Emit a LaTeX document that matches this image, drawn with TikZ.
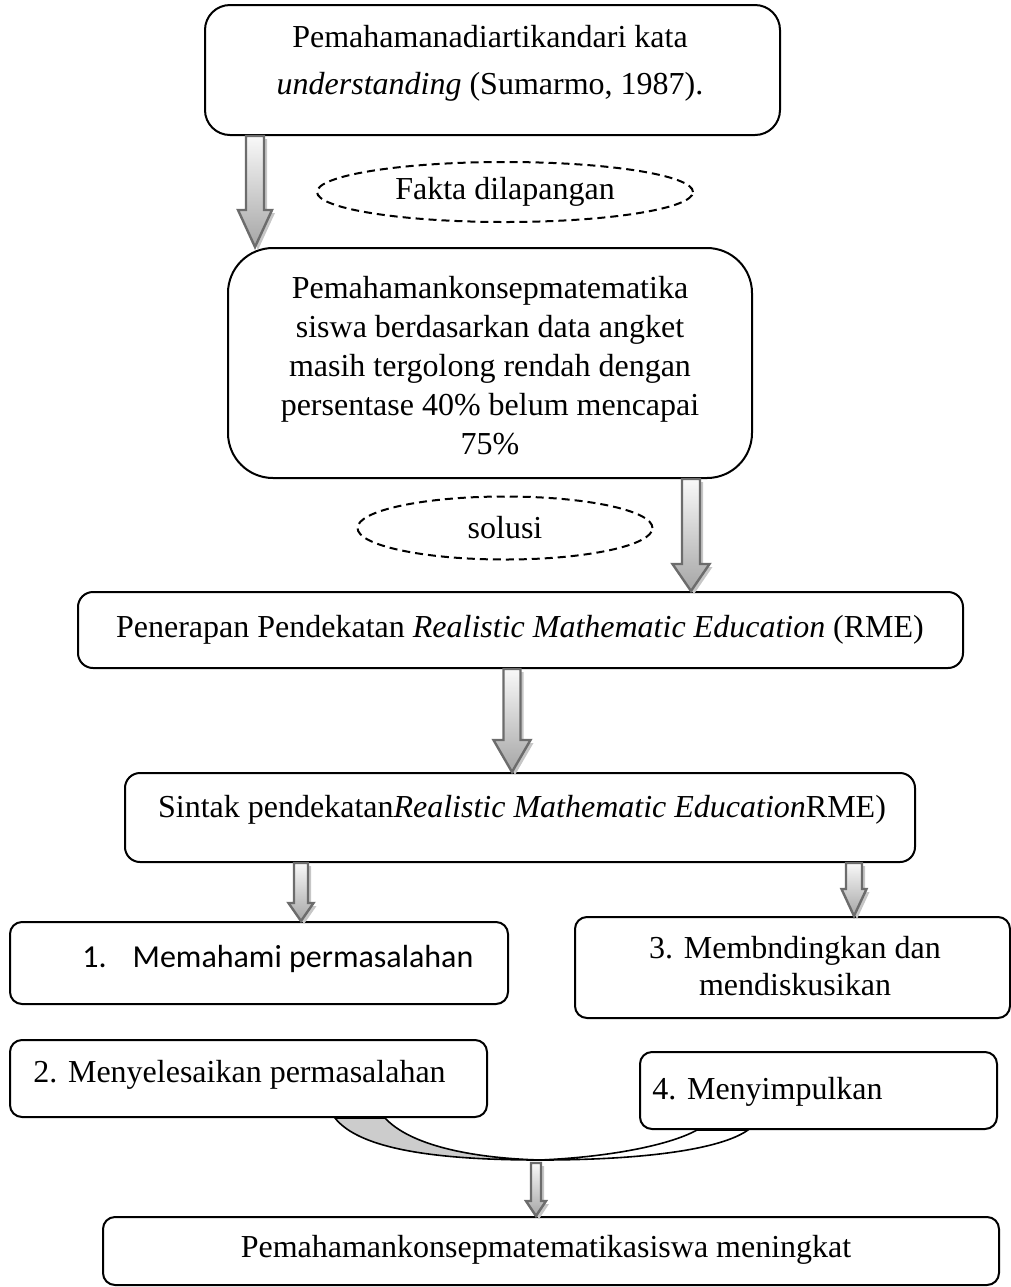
\documentclass[tikz,border=0pt]{standalone}
\usepackage{fontspec}
\setmainfont{Liberation Serif}
\newfontfamily\calibri{Carlito}
\usetikzlibrary{fit,calc,shapes.geometric,backgrounds}

% block arrow: x, from, to, half shaft, half head, head length
\newcommand\blockarrow[6]{%
  \draw[bigarrow] let \p0=(#1,0), \p1=(#2), \p2=(#3) in
    (\x0-#4,\y1) -- (\x0+#4,\y1) -- (\x0+#4,\y2+#6) -- (\x0+#5,\y2+#6)
    -- (\x0,\y2) -- (\x0-#5,\y2+#6) -- (\x0-#4,\y2+#6) -- cycle;}

\begin{document}
\begin{tikzpicture}[x=0.5pt, y=-0.5pt,
  box/.style={draw, line width=1pt, fill=white, rounded corners=#1, inner sep=0pt},
  box/.default=6pt,
  txt/.style={align=center, inner sep=0pt, font=\fontsize{16pt}{20pt}\selectfont},
  fact/.style={ellipse, draw, line width=1pt, dash pattern=on 4pt off 2.5pt,
    inner sep=0pt, font=\fontsize{16pt}{20pt}\selectfont},
  bigarrow/.style={draw=gray!85!black, line width=1.2pt, line join=miter,
    top color=gray!5, bottom color=gray!70,
    preaction={fill=gray!45, transform canvas={xshift=1.5pt, yshift=-1.5pt}}}]
\useasboundingbox (0,0) rectangle (1011,1287);

\node[box=12.5pt, fit={(205,5) (780,135)}] (pa) {};
\node[txt, font=\fontsize{16pt}{23.5pt}\selectfont] (ta) at (490,63)
  {Pemahamanadiartikandari kata\\\textit{understanding} (Sumarmo, 1987).};

\node[fact, minimum width=188pt, minimum height=30pt] (fakta) at (505,192) {Fakta dilapangan};

\node[box=22.5pt, fit={(228,248) (752,478)}] (pb) {};
\node[txt, font=\fontsize{16pt}{19.5pt}\selectfont] (tb) at (490,366) {Pemahamankonsepmatematika\\
  siswa berdasarkan data angket\\masih tergolong rendah dengan\\persentase 40\% belum mencapai\\75\%};

\node[fact, minimum width=147.5pt, minimum height=31.5pt] (solusi) at (505,528) {solusi};

\node[box=7.5pt, fit={(78,592) (963,668)}] (pc) {};
\node[txt] (tc) at (520,630) {Penerapan Pendekatan \textit{Realistic Mathematic Education} (RME)};

\node[box=7.5pt, fit={(125,773) (915,862)}] (pd) {};
\node[txt] (td) at (522,810) {Sintak pendekatan\textit{Realistic Mathematic Education}RME)};

\node[box, fit={(10,922) (508,1004)}] (p1) {};
\node[txt, font=\calibri\fontsize{16pt}{20pt}\selectfont, anchor=base west] (t1) at (82,967)
  {1.\hspace{13pt}Memahami permasalahan};

\node[box, fit={(575,917) (1010,1018)}] (p3) {};
\node[txt, font=\fontsize{16pt}{18.5pt}\selectfont] (t3) at (795,966) {3. Membndingkan dan\\mendiskusikan};

\node[box, fit={(10,1040) (487,1117)}] (p2) {};
\node[txt, anchor=base west] (t2) at (33,1082) {2. Menyelesaikan permasalahan};

\node[box, fit={(640,1052) (997,1129)}] (p4) {};
\node[txt, anchor=base west] (t4) at (652,1099) {4. Menyimpulkan};

\node[box, fit={(103,1217) (999,1285)}] (pe) {};
\node[txt] (te) at (546,1250) {Pemahamankonsepmatematikasiswa meningkat};

% joint of 2 and 4
\coordinate (cb) at (536,1163);
\begin{scope}[on background layer]
  \filldraw[fill=black!20, line width=0.8pt] (335,0 |- p2.south)
    .. controls (360,1150) and (440,1160) .. (540,1160)
    .. controls (470,1158) and (410,1145) .. (385,0 |- p2.south) -- cycle;
  \filldraw[fill=white, line width=0.8pt] (540,1160)
    .. controls (640,1160) and (720,1150) .. (748,0 |- p4.south)
    -- (697,0 |- p4.south) .. controls (670,1145) and (610,1157) .. (540,1160) -- cycle;
\end{scope}

\blockarrow{255}{pa.south}{pb.north}{4.5pt}{8.5pt}{18.5pt}
\blockarrow{691}{pb.south}{pc.north}{4.5pt}{9.25pt}{13.5pt}
\blockarrow{512}{pc.south}{pd.north}{4.25pt}{9.25pt}{16pt}
\blockarrow{301}{pd.south}{p1.north}{3.5pt}{6.25pt}{9pt}
\blockarrow{854}{pd.south}{p3.north}{4pt}{6.25pt}{13.5pt}
\blockarrow{536}{cb}{pe.north}{2.5pt}{5pt}{7.5pt}
\end{tikzpicture}
\end{document}
